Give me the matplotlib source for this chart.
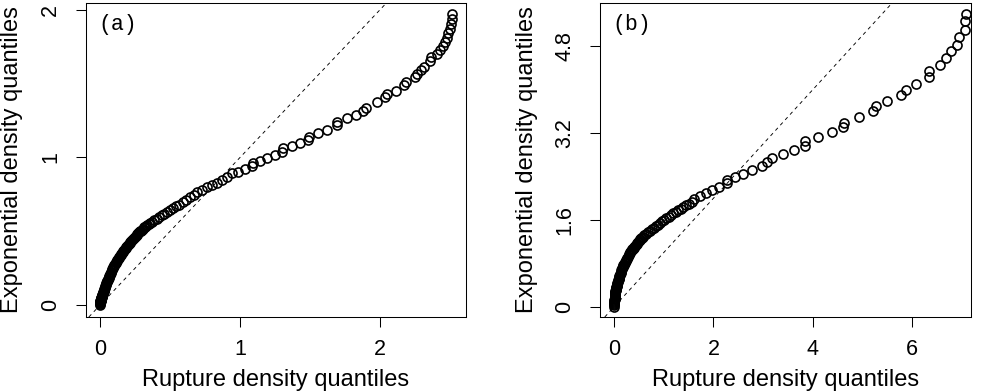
import numpy as np
import matplotlib
matplotlib.use("Agg")
import matplotlib.pyplot as plt

# panel (a): rupture quantiles (x) vs exponential quantiles (y)
rup_a = [0.000, 0.0005, 0.001, 0.0015, 0.002, 0.0025, 0.003, 0.0035, 0.004, 0.0045,
         0.005, 0.006, 0.007, 0.008, 0.009, 0.010, 0.011, 0.012, 0.013, 0.0145,
         0.016, 0.0175, 0.019, 0.0205, 0.022, 0.0235, 0.025, 0.027, 0.029, 0.031,
         0.033, 0.035, 0.037, 0.0395, 0.042, 0.0445, 0.047, 0.0495, 0.052, 0.055,
         0.058, 0.061, 0.064, 0.067, 0.070, 0.0735, 0.077, 0.0805, 0.084, 0.0875,
         0.091, 0.095, 0.099, 0.103, 0.107, 0.111, 0.115, 0.1195, 0.124, 0.1285,
         0.133, 0.1375, 0.142, 0.147, 0.152, 0.157, 0.162, 0.167, 0.172, 0.1775,
         0.183, 0.1885, 0.194, 0.1995, 0.205, 0.211, 0.217, 0.223, 0.229, 0.235,
         0.241, 0.2475, 0.254, 0.2605, 0.267, 0.274, 0.281, 0.288, 0.295, 0.302,
         0.309, 0.3165, 0.324, 0.3315, 0.339, 0.347, 0.355,
         0.371, 0.388, 0.405, 0.423, 0.441, 0.460, 0.480, 0.500, 0.521, 0.543,
         0.566, 0.590, 0.615, 0.641, 0.668, 0.696, 0.725,
         0.762, 0.798, 0.834, 0.869, 0.905, 0.940, 0.988, 1.036, 1.083, 1.095,
         1.143, 1.190, 1.250, 1.298, 1.310, 1.369, 1.429, 1.488, 1.495, 1.560,
         1.624, 1.690, 1.695, 1.762, 1.829, 1.881, 1.900, 1.976, 2.036, 2.052,
         2.114, 2.171, 2.186, 2.250, 2.267, 2.291, 2.314, 2.357, 2.366, 2.409,
         2.429, 2.448, 2.462, 2.476, 2.488, 2.500, 2.509, 2.517, 2.517]
exp_a = [0.000, 0.008, 0.015, 0.019, 0.022, 0.025, 0.028, 0.031, 0.033, 0.035,
         0.037, 0.040, 0.043, 0.046, 0.049, 0.051, 0.053, 0.056, 0.059, 0.063,
         0.067, 0.071, 0.076, 0.080, 0.084, 0.088, 0.093, 0.098, 0.104, 0.110,
         0.115, 0.121, 0.127, 0.134, 0.141, 0.148, 0.155, 0.161, 0.166, 0.173,
         0.179, 0.186, 0.192, 0.199, 0.205, 0.213, 0.220, 0.228, 0.236, 0.244,
         0.251, 0.259, 0.266, 0.272, 0.278, 0.284, 0.290, 0.297, 0.303, 0.310,
         0.317, 0.324, 0.331, 0.339, 0.346, 0.353, 0.359, 0.366, 0.372, 0.379,
         0.385, 0.392, 0.399, 0.406, 0.413, 0.421, 0.428, 0.436, 0.443, 0.449,
         0.454, 0.460, 0.466, 0.473, 0.479, 0.486, 0.492, 0.499, 0.505, 0.512,
         0.519, 0.526, 0.532, 0.537, 0.542, 0.548, 0.553,
         0.563, 0.574, 0.586, 0.598, 0.610, 0.620, 0.632, 0.643, 0.655, 0.668,
         0.681, 0.697, 0.713, 0.731, 0.749, 0.766, 0.782,
         0.801, 0.812, 0.828, 0.846, 0.869, 0.892, 0.903, 0.925, 0.941, 0.964,
         0.977, 0.993, 1.016, 1.038, 1.061, 1.077, 1.099, 1.117, 1.140, 1.167,
         1.189, 1.219, 1.241, 1.264, 1.286, 1.314, 1.332, 1.373, 1.411, 1.427,
         1.449, 1.490, 1.512, 1.546, 1.568, 1.591, 1.613, 1.652, 1.677, 1.701,
         1.727, 1.751, 1.778, 1.805, 1.839, 1.869, 1.900, 1.936, 1.968]

# panel (b)
rup_b = [0.000, 0.001, 0.002, 0.003, 0.004, 0.005, 0.006, 0.007, 0.008, 0.009,
         0.010, 0.0115, 0.013, 0.0145, 0.016, 0.018, 0.020, 0.0225, 0.025, 0.0275,
         0.030, 0.033, 0.036, 0.0395, 0.043, 0.047, 0.051, 0.0555, 0.060, 0.065,
         0.070, 0.0755, 0.081, 0.087, 0.093, 0.0995, 0.106, 0.113, 0.120, 0.1275,
         0.135, 0.143, 0.151, 0.1595, 0.168, 0.177, 0.186, 0.1955, 0.205, 0.215,
         0.225, 0.2355, 0.246, 0.257, 0.268, 0.2795, 0.291, 0.303, 0.315, 0.3275,
         0.340, 0.353, 0.366, 0.3795, 0.393, 0.407, 0.421, 0.4355, 0.450, 0.465,
         0.480, 0.4955, 0.511, 0.527, 0.543, 0.5595, 0.576,
         0.610, 0.645, 0.681, 0.718, 0.756, 0.795, 0.835, 0.876, 0.918, 0.961,
         1.005, 1.050, 1.096, 1.143, 1.191, 1.240, 1.290, 1.341, 1.393, 1.446,
         1.500,
         1.560, 1.600, 1.730, 1.850, 1.980, 2.120, 2.270, 2.280, 2.430, 2.600,
         2.780, 2.970, 3.070, 3.180, 3.400, 3.620, 3.845, 3.855, 4.113, 4.383,
         4.610, 4.640, 4.930, 5.222, 5.276, 5.504, 5.786, 5.881, 6.083, 6.337,
         6.337, 6.565, 6.687, 6.782, 6.915, 6.956, 7.060, 7.075, 7.090]
exp_b = [0.000, 0.025, 0.050, 0.070, 0.090, 0.105, 0.120, 0.135, 0.150, 0.165,
         0.180, 0.195, 0.210, 0.223, 0.235, 0.248, 0.260, 0.275, 0.290, 0.303,
         0.315, 0.328, 0.340, 0.353, 0.365, 0.378, 0.390, 0.405, 0.420, 0.435,
         0.450, 0.468, 0.485, 0.503, 0.520, 0.540, 0.560, 0.580, 0.600, 0.623,
         0.645, 0.668, 0.690, 0.708, 0.725, 0.743, 0.760, 0.778, 0.795, 0.813,
         0.830, 0.848, 0.865, 0.885, 0.905, 0.925, 0.945, 0.968, 0.990, 1.005,
         1.020, 1.038, 1.055, 1.073, 1.090, 1.108, 1.125, 1.143, 1.160, 1.178,
         1.195, 1.213, 1.230, 1.245, 1.260, 1.275, 1.290,
         1.315, 1.340, 1.370, 1.400, 1.425, 1.455, 1.485, 1.515, 1.545, 1.575,
         1.605, 1.630, 1.660, 1.690, 1.720, 1.750, 1.780, 1.810, 1.840, 1.870,
         1.900,
         1.940, 1.990, 2.050, 2.100, 2.150, 2.210, 2.280, 2.340, 2.400, 2.455,
         2.520, 2.595, 2.670, 2.735, 2.815, 2.884, 2.970, 3.050, 3.137, 3.216,
         3.305, 3.395, 3.500, 3.604, 3.696, 3.788, 3.910, 4.002, 4.107, 4.229,
         4.352, 4.463, 4.586, 4.707, 4.830, 4.966, 5.110, 5.260, 5.400]

panels = [
    dict(x=rup_a, y=exp_a, tag="(a)", xlim=(-0.1, 2.614), ylim=(-0.08, 2.045),
         xticks=[0, 1, 2], yticks=[0, 1, 2], ytl=["0", "1", "2"],
         rect=[0.0876, 0.1913, 0.387, 0.801]),
    dict(x=rup_b, y=exp_b, tag="(b)", xlim=(-0.28, 7.19), ylim=(-0.19, 5.6),
         xticks=[0, 2, 4, 6], yticks=[0, 1.6, 3.2, 4.8],
         ytl=["0", "1.6", "3.2", "4.8"],
         rect=[0.6113, 0.1913, 0.3775, 0.801]),
]

plt.rcParams['font.family'] = ['Liberation Sans', 'DejaVu Sans']

fig = plt.figure(figsize=(9.82, 3.92), dpi=100)

for p in panels:
    ax = fig.add_axes(p["rect"])
    ax.plot(p["x"], p["y"], 'o', ms=6.5, mfc='none', mec='black', mew=1.2)
    ax.axline((0, 0), slope=1, color='black', lw=0.65, ls=(0, (4, 4)))
    ax.set_xlim(*p["xlim"])
    ax.set_ylim(*p["ylim"])
    ax.set_xticks(p["xticks"])
    ax.set_xticklabels([str(t) for t in p["xticks"]])
    ax.set_yticks(p["yticks"])
    ax.set_yticklabels(p["ytl"], rotation=90, va='center')
    ax.tick_params(length=7, width=0.75, labelsize=15.5)
    ax.tick_params(axis='x', pad=9)
    ax.tick_params(axis='y', pad=11)
    for s in ax.spines.values():
        s.set_linewidth(0.75)
    ax.set_xlabel("Rupture density quantiles", fontsize=17, labelpad=6)
    ax.set_ylabel("Exponential density quantiles", fontsize=17, labelpad=12)
    ax.text(0.032, 0.93, p["tag"], transform=ax.transAxes, fontsize=15.5,
            family='Liberation Mono', va='center', ha='left')

fig.savefig("out.png", dpi=100)
